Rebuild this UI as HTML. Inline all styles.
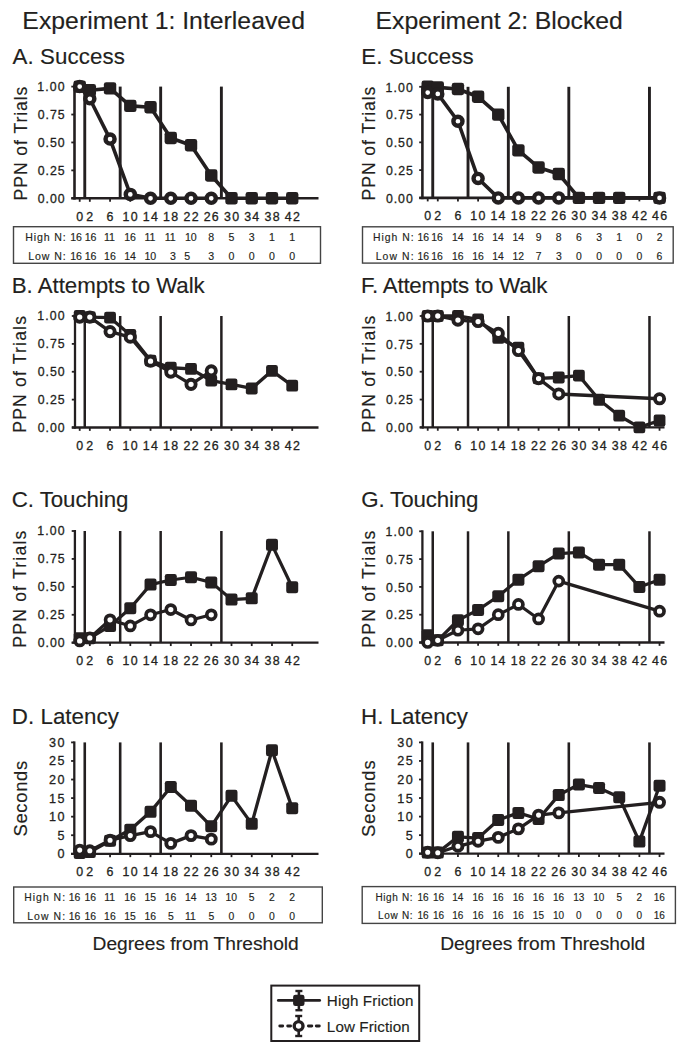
<!DOCTYPE html>
<html><head><meta charset="utf-8"><style>
html,body{margin:0;padding:0;background:#fff;}
svg{display:block;}
text{font-family:"Liberation Sans",sans-serif;fill:#231f20;stroke:#231f20;stroke-width:0.15px;}
text.b{stroke-width:0.3px;}
</style></head><body>
<svg width="681" height="1050" viewBox="0 0 681 1050">
<rect width="681" height="1050" fill="#fff"/>
<g stroke="#231f20" stroke-linecap="butt">
<line x1="84.76" y1="86.60" x2="84.76" y2="198.30" stroke-width="2.9"/>
<line x1="120.18" y1="86.60" x2="120.18" y2="198.30" stroke-width="2.9"/>
<line x1="160.66" y1="86.60" x2="160.66" y2="198.30" stroke-width="2.9"/>
<line x1="221.38" y1="86.60" x2="221.38" y2="198.30" stroke-width="2.9"/>
<line x1="74.50" y1="85.60" x2="74.50" y2="199.60" stroke-width="2.6"/>
<line x1="71.30" y1="198.30" x2="318.50" y2="198.30" stroke-width="2.6"/>
<line x1="71.30" y1="198.30" x2="74.50" y2="198.30" stroke-width="1.8"/>
<line x1="71.30" y1="170.38" x2="74.50" y2="170.38" stroke-width="1.8"/>
<line x1="71.30" y1="142.45" x2="74.50" y2="142.45" stroke-width="1.8"/>
<line x1="71.30" y1="114.53" x2="74.50" y2="114.53" stroke-width="1.8"/>
<line x1="71.30" y1="86.60" x2="74.50" y2="86.60" stroke-width="1.8"/>
<line x1="79.70" y1="198.30" x2="79.70" y2="201.80" stroke-width="1.8"/>
<line x1="89.82" y1="198.30" x2="89.82" y2="201.80" stroke-width="1.8"/>
<line x1="110.06" y1="198.30" x2="110.06" y2="201.80" stroke-width="1.8"/>
<line x1="130.30" y1="198.30" x2="130.30" y2="201.80" stroke-width="1.8"/>
<line x1="150.54" y1="198.30" x2="150.54" y2="201.80" stroke-width="1.8"/>
<line x1="170.78" y1="198.30" x2="170.78" y2="201.80" stroke-width="1.8"/>
<line x1="191.02" y1="198.30" x2="191.02" y2="201.80" stroke-width="1.8"/>
<line x1="211.26" y1="198.30" x2="211.26" y2="201.80" stroke-width="1.8"/>
<line x1="231.50" y1="198.30" x2="231.50" y2="201.80" stroke-width="1.8"/>
<line x1="251.74" y1="198.30" x2="251.74" y2="201.80" stroke-width="1.8"/>
<line x1="271.98" y1="198.30" x2="271.98" y2="201.80" stroke-width="1.8"/>
<line x1="292.22" y1="198.30" x2="292.22" y2="201.80" stroke-width="1.8"/>
<polyline points="79.70,86.60 89.82,90.17 110.06,88.39 130.30,105.92 150.54,107.26 170.78,137.98 191.02,145.24 211.26,175.51 231.50,198.30 251.74,198.30 271.98,198.30 292.22,198.30" fill="none" stroke-width="3.6" stroke-linejoin="round"/>
<rect x="73.50" y="80.40" width="12.4" height="12.4" rx="2.4" fill="#231f20" stroke="none"/>
<rect x="83.62" y="83.97" width="12.4" height="12.4" rx="2.4" fill="#231f20" stroke="none"/>
<rect x="103.86" y="82.19" width="12.4" height="12.4" rx="2.4" fill="#231f20" stroke="none"/>
<rect x="124.10" y="99.72" width="12.4" height="12.4" rx="2.4" fill="#231f20" stroke="none"/>
<rect x="144.34" y="101.06" width="12.4" height="12.4" rx="2.4" fill="#231f20" stroke="none"/>
<rect x="164.58" y="131.78" width="12.4" height="12.4" rx="2.4" fill="#231f20" stroke="none"/>
<rect x="184.82" y="139.04" width="12.4" height="12.4" rx="2.4" fill="#231f20" stroke="none"/>
<rect x="205.06" y="169.31" width="12.4" height="12.4" rx="2.4" fill="#231f20" stroke="none"/>
<rect x="225.30" y="192.10" width="12.4" height="12.4" rx="2.4" fill="#231f20" stroke="none"/>
<rect x="245.54" y="192.10" width="12.4" height="12.4" rx="2.4" fill="#231f20" stroke="none"/>
<rect x="265.78" y="192.10" width="12.4" height="12.4" rx="2.4" fill="#231f20" stroke="none"/>
<rect x="286.02" y="192.10" width="12.4" height="12.4" rx="2.4" fill="#231f20" stroke="none"/>
<polyline points="79.70,86.60 89.82,98.78 110.06,139.10 130.30,194.39 150.54,198.30 170.78,198.30 191.02,198.30 211.26,198.30" fill="none" stroke-width="3.6" stroke-linejoin="round"/>
<circle cx="79.70" cy="86.60" r="4.55" fill="#fff" stroke-width="4.4"/>
<circle cx="89.82" cy="98.78" r="4.55" fill="#fff" stroke-width="4.4"/>
<circle cx="110.06" cy="139.10" r="4.55" fill="#fff" stroke-width="4.4"/>
<circle cx="130.30" cy="194.39" r="4.55" fill="#fff" stroke-width="4.4"/>
<circle cx="150.54" cy="198.30" r="4.55" fill="#fff" stroke-width="4.4"/>
<circle cx="170.78" cy="198.30" r="4.55" fill="#fff" stroke-width="4.4"/>
<circle cx="191.02" cy="198.30" r="4.55" fill="#fff" stroke-width="4.4"/>
<circle cx="211.26" cy="198.30" r="4.55" fill="#fff" stroke-width="4.4"/>
<line x1="84.76" y1="316.00" x2="84.76" y2="427.50" stroke-width="2.5"/>
<line x1="120.18" y1="316.00" x2="120.18" y2="427.50" stroke-width="2.5"/>
<line x1="160.66" y1="316.00" x2="160.66" y2="427.50" stroke-width="2.5"/>
<line x1="221.38" y1="316.00" x2="221.38" y2="427.50" stroke-width="2.5"/>
<line x1="75.00" y1="315.00" x2="75.00" y2="428.65" stroke-width="2.3"/>
<line x1="71.80" y1="427.50" x2="318.50" y2="427.50" stroke-width="2.3"/>
<line x1="71.80" y1="427.50" x2="75.00" y2="427.50" stroke-width="1.8"/>
<line x1="71.80" y1="399.62" x2="75.00" y2="399.62" stroke-width="1.8"/>
<line x1="71.80" y1="371.75" x2="75.00" y2="371.75" stroke-width="1.8"/>
<line x1="71.80" y1="343.88" x2="75.00" y2="343.88" stroke-width="1.8"/>
<line x1="71.80" y1="316.00" x2="75.00" y2="316.00" stroke-width="1.8"/>
<line x1="79.70" y1="427.50" x2="79.70" y2="430.85" stroke-width="1.8"/>
<line x1="89.82" y1="427.50" x2="89.82" y2="430.85" stroke-width="1.8"/>
<line x1="110.06" y1="427.50" x2="110.06" y2="430.85" stroke-width="1.8"/>
<line x1="130.30" y1="427.50" x2="130.30" y2="430.85" stroke-width="1.8"/>
<line x1="150.54" y1="427.50" x2="150.54" y2="430.85" stroke-width="1.8"/>
<line x1="170.78" y1="427.50" x2="170.78" y2="430.85" stroke-width="1.8"/>
<line x1="191.02" y1="427.50" x2="191.02" y2="430.85" stroke-width="1.8"/>
<line x1="211.26" y1="427.50" x2="211.26" y2="430.85" stroke-width="1.8"/>
<line x1="231.50" y1="427.50" x2="231.50" y2="430.85" stroke-width="1.8"/>
<line x1="251.74" y1="427.50" x2="251.74" y2="430.85" stroke-width="1.8"/>
<line x1="271.98" y1="427.50" x2="271.98" y2="430.85" stroke-width="1.8"/>
<line x1="292.22" y1="427.50" x2="292.22" y2="430.85" stroke-width="1.8"/>
<polyline points="79.70,316.00 89.82,317.12 110.06,317.67 130.30,334.95 150.54,360.60 170.78,367.74 191.02,368.96 211.26,380.67 231.50,384.46 251.74,388.48 271.98,370.86 292.22,385.69" fill="none" stroke-width="3.3" stroke-linejoin="round"/>
<rect x="73.80" y="310.10" width="11.8" height="11.8" rx="2.2" fill="#231f20" stroke="none"/>
<rect x="83.92" y="311.22" width="11.8" height="11.8" rx="2.2" fill="#231f20" stroke="none"/>
<rect x="104.16" y="311.77" width="11.8" height="11.8" rx="2.2" fill="#231f20" stroke="none"/>
<rect x="124.40" y="329.06" width="11.8" height="11.8" rx="2.2" fill="#231f20" stroke="none"/>
<rect x="144.64" y="354.70" width="11.8" height="11.8" rx="2.2" fill="#231f20" stroke="none"/>
<rect x="164.88" y="361.84" width="11.8" height="11.8" rx="2.2" fill="#231f20" stroke="none"/>
<rect x="185.12" y="363.06" width="11.8" height="11.8" rx="2.2" fill="#231f20" stroke="none"/>
<rect x="205.36" y="374.77" width="11.8" height="11.8" rx="2.2" fill="#231f20" stroke="none"/>
<rect x="225.60" y="378.56" width="11.8" height="11.8" rx="2.2" fill="#231f20" stroke="none"/>
<rect x="245.84" y="382.58" width="11.8" height="11.8" rx="2.2" fill="#231f20" stroke="none"/>
<rect x="266.08" y="364.96" width="11.8" height="11.8" rx="2.2" fill="#231f20" stroke="none"/>
<rect x="286.32" y="379.79" width="11.8" height="11.8" rx="2.2" fill="#231f20" stroke="none"/>
<polyline points="79.70,317.12 89.82,317.12 110.06,331.61 130.30,337.19 150.54,361.16 170.78,372.08 191.02,384.35 211.26,370.86" fill="none" stroke-width="3.3" stroke-linejoin="round"/>
<circle cx="79.70" cy="317.12" r="4.6" fill="#fff" stroke-width="3.9"/>
<circle cx="89.82" cy="317.12" r="4.6" fill="#fff" stroke-width="3.9"/>
<circle cx="110.06" cy="331.61" r="4.6" fill="#fff" stroke-width="3.9"/>
<circle cx="130.30" cy="337.19" r="4.6" fill="#fff" stroke-width="3.9"/>
<circle cx="150.54" cy="361.16" r="4.6" fill="#fff" stroke-width="3.9"/>
<circle cx="170.78" cy="372.08" r="4.6" fill="#fff" stroke-width="3.9"/>
<circle cx="191.02" cy="384.35" r="4.6" fill="#fff" stroke-width="3.9"/>
<circle cx="211.26" cy="370.86" r="4.6" fill="#fff" stroke-width="3.9"/>
<line x1="84.76" y1="531.00" x2="84.76" y2="642.70" stroke-width="2.5"/>
<line x1="120.18" y1="531.00" x2="120.18" y2="642.70" stroke-width="2.5"/>
<line x1="160.66" y1="531.00" x2="160.66" y2="642.70" stroke-width="2.5"/>
<line x1="221.38" y1="531.00" x2="221.38" y2="642.70" stroke-width="2.5"/>
<line x1="74.90" y1="530.00" x2="74.90" y2="643.85" stroke-width="2.3"/>
<line x1="71.70" y1="642.70" x2="318.50" y2="642.70" stroke-width="2.3"/>
<line x1="71.70" y1="642.70" x2="74.90" y2="642.70" stroke-width="1.8"/>
<line x1="71.70" y1="614.78" x2="74.90" y2="614.78" stroke-width="1.8"/>
<line x1="71.70" y1="586.85" x2="74.90" y2="586.85" stroke-width="1.8"/>
<line x1="71.70" y1="558.92" x2="74.90" y2="558.92" stroke-width="1.8"/>
<line x1="71.70" y1="531.00" x2="74.90" y2="531.00" stroke-width="1.8"/>
<line x1="79.70" y1="642.70" x2="79.70" y2="646.05" stroke-width="1.8"/>
<line x1="89.82" y1="642.70" x2="89.82" y2="646.05" stroke-width="1.8"/>
<line x1="110.06" y1="642.70" x2="110.06" y2="646.05" stroke-width="1.8"/>
<line x1="130.30" y1="642.70" x2="130.30" y2="646.05" stroke-width="1.8"/>
<line x1="150.54" y1="642.70" x2="150.54" y2="646.05" stroke-width="1.8"/>
<line x1="170.78" y1="642.70" x2="170.78" y2="646.05" stroke-width="1.8"/>
<line x1="191.02" y1="642.70" x2="191.02" y2="646.05" stroke-width="1.8"/>
<line x1="211.26" y1="642.70" x2="211.26" y2="646.05" stroke-width="1.8"/>
<line x1="231.50" y1="642.70" x2="231.50" y2="646.05" stroke-width="1.8"/>
<line x1="251.74" y1="642.70" x2="251.74" y2="646.05" stroke-width="1.8"/>
<line x1="271.98" y1="642.70" x2="271.98" y2="646.05" stroke-width="1.8"/>
<line x1="292.22" y1="642.70" x2="292.22" y2="646.05" stroke-width="1.8"/>
<polyline points="79.70,638.23 89.82,638.23 110.06,625.95 130.30,608.30 150.54,584.62 170.78,580.04 191.02,577.24 211.26,582.38 231.50,599.58 251.74,598.36 271.98,544.85 292.22,587.19" fill="none" stroke-width="3.2" stroke-linejoin="round"/>
<rect x="73.70" y="632.23" width="12.0" height="12.0" rx="2.2" fill="#231f20" stroke="none"/>
<rect x="83.82" y="632.23" width="12.0" height="12.0" rx="2.2" fill="#231f20" stroke="none"/>
<rect x="104.06" y="619.95" width="12.0" height="12.0" rx="2.2" fill="#231f20" stroke="none"/>
<rect x="124.30" y="602.30" width="12.0" height="12.0" rx="2.2" fill="#231f20" stroke="none"/>
<rect x="144.54" y="578.62" width="12.0" height="12.0" rx="2.2" fill="#231f20" stroke="none"/>
<rect x="164.78" y="574.04" width="12.0" height="12.0" rx="2.2" fill="#231f20" stroke="none"/>
<rect x="185.02" y="571.24" width="12.0" height="12.0" rx="2.2" fill="#231f20" stroke="none"/>
<rect x="205.26" y="576.38" width="12.0" height="12.0" rx="2.2" fill="#231f20" stroke="none"/>
<rect x="225.50" y="593.58" width="12.0" height="12.0" rx="2.2" fill="#231f20" stroke="none"/>
<rect x="245.74" y="592.36" width="12.0" height="12.0" rx="2.2" fill="#231f20" stroke="none"/>
<rect x="265.98" y="538.85" width="12.0" height="12.0" rx="2.2" fill="#231f20" stroke="none"/>
<rect x="286.22" y="581.19" width="12.0" height="12.0" rx="2.2" fill="#231f20" stroke="none"/>
<polyline points="79.70,640.91 89.82,637.90 110.06,619.80 130.30,625.95 150.54,614.78 170.78,609.53 191.02,620.02 211.26,614.78" fill="none" stroke-width="3.2" stroke-linejoin="round"/>
<circle cx="79.70" cy="640.91" r="4.5" fill="#fff" stroke-width="3.7"/>
<circle cx="89.82" cy="637.90" r="4.5" fill="#fff" stroke-width="3.7"/>
<circle cx="110.06" cy="619.80" r="4.5" fill="#fff" stroke-width="3.7"/>
<circle cx="130.30" cy="625.95" r="4.5" fill="#fff" stroke-width="3.7"/>
<circle cx="150.54" cy="614.78" r="4.5" fill="#fff" stroke-width="3.7"/>
<circle cx="170.78" cy="609.53" r="4.5" fill="#fff" stroke-width="3.7"/>
<circle cx="191.02" cy="620.02" r="4.5" fill="#fff" stroke-width="3.7"/>
<circle cx="211.26" cy="614.78" r="4.5" fill="#fff" stroke-width="3.7"/>
<line x1="84.76" y1="742.40" x2="84.76" y2="853.80" stroke-width="2.6"/>
<line x1="120.18" y1="742.40" x2="120.18" y2="853.80" stroke-width="2.6"/>
<line x1="160.66" y1="742.40" x2="160.66" y2="853.80" stroke-width="2.6"/>
<line x1="221.38" y1="742.40" x2="221.38" y2="853.80" stroke-width="2.6"/>
<line x1="74.30" y1="741.40" x2="74.30" y2="854.95" stroke-width="2.3"/>
<line x1="71.10" y1="853.80" x2="318.50" y2="853.80" stroke-width="2.3"/>
<line x1="71.10" y1="853.80" x2="74.30" y2="853.80" stroke-width="1.8"/>
<line x1="71.10" y1="835.23" x2="74.30" y2="835.23" stroke-width="1.8"/>
<line x1="71.10" y1="816.67" x2="74.30" y2="816.67" stroke-width="1.8"/>
<line x1="71.10" y1="798.10" x2="74.30" y2="798.10" stroke-width="1.8"/>
<line x1="71.10" y1="779.53" x2="74.30" y2="779.53" stroke-width="1.8"/>
<line x1="71.10" y1="760.97" x2="74.30" y2="760.97" stroke-width="1.8"/>
<line x1="71.10" y1="742.40" x2="74.30" y2="742.40" stroke-width="1.8"/>
<line x1="79.70" y1="853.80" x2="79.70" y2="857.15" stroke-width="1.8"/>
<line x1="89.82" y1="853.80" x2="89.82" y2="857.15" stroke-width="1.8"/>
<line x1="110.06" y1="853.80" x2="110.06" y2="857.15" stroke-width="1.8"/>
<line x1="130.30" y1="853.80" x2="130.30" y2="857.15" stroke-width="1.8"/>
<line x1="150.54" y1="853.80" x2="150.54" y2="857.15" stroke-width="1.8"/>
<line x1="170.78" y1="853.80" x2="170.78" y2="857.15" stroke-width="1.8"/>
<line x1="191.02" y1="853.80" x2="191.02" y2="857.15" stroke-width="1.8"/>
<line x1="211.26" y1="853.80" x2="211.26" y2="857.15" stroke-width="1.8"/>
<line x1="231.50" y1="853.80" x2="231.50" y2="857.15" stroke-width="1.8"/>
<line x1="251.74" y1="853.80" x2="251.74" y2="857.15" stroke-width="1.8"/>
<line x1="271.98" y1="853.80" x2="271.98" y2="857.15" stroke-width="1.8"/>
<line x1="292.22" y1="853.80" x2="292.22" y2="857.15" stroke-width="1.8"/>
<polyline points="79.70,853.06 89.82,851.94 110.06,840.80 130.30,829.66 150.54,811.84 170.78,786.96 191.02,805.64 211.26,826.32 231.50,795.87 251.74,823.87 271.98,750.20 292.22,808.13" fill="none" stroke-width="3.3" stroke-linejoin="round"/>
<rect x="73.70" y="847.06" width="12.0" height="12.0" rx="2.2" fill="#231f20" stroke="none"/>
<rect x="83.82" y="845.94" width="12.0" height="12.0" rx="2.2" fill="#231f20" stroke="none"/>
<rect x="104.06" y="834.80" width="12.0" height="12.0" rx="2.2" fill="#231f20" stroke="none"/>
<rect x="124.30" y="823.66" width="12.0" height="12.0" rx="2.2" fill="#231f20" stroke="none"/>
<rect x="144.54" y="805.84" width="12.0" height="12.0" rx="2.2" fill="#231f20" stroke="none"/>
<rect x="164.78" y="780.96" width="12.0" height="12.0" rx="2.2" fill="#231f20" stroke="none"/>
<rect x="185.02" y="799.64" width="12.0" height="12.0" rx="2.2" fill="#231f20" stroke="none"/>
<rect x="205.26" y="820.32" width="12.0" height="12.0" rx="2.2" fill="#231f20" stroke="none"/>
<rect x="225.50" y="789.87" width="12.0" height="12.0" rx="2.2" fill="#231f20" stroke="none"/>
<rect x="245.74" y="817.87" width="12.0" height="12.0" rx="2.2" fill="#231f20" stroke="none"/>
<rect x="265.98" y="744.20" width="12.0" height="12.0" rx="2.2" fill="#231f20" stroke="none"/>
<rect x="286.22" y="802.13" width="12.0" height="12.0" rx="2.2" fill="#231f20" stroke="none"/>
<polyline points="79.70,850.09 89.82,850.72 110.06,840.25 130.30,835.60 150.54,831.67 170.78,843.40 191.02,835.60 211.26,839.13" fill="none" stroke-width="3.3" stroke-linejoin="round"/>
<circle cx="79.70" cy="850.09" r="4.5" fill="#fff" stroke-width="3.9"/>
<circle cx="89.82" cy="850.72" r="4.5" fill="#fff" stroke-width="3.9"/>
<circle cx="110.06" cy="840.25" r="4.5" fill="#fff" stroke-width="3.9"/>
<circle cx="130.30" cy="835.60" r="4.5" fill="#fff" stroke-width="3.9"/>
<circle cx="150.54" cy="831.67" r="4.5" fill="#fff" stroke-width="3.9"/>
<circle cx="170.78" cy="843.40" r="4.5" fill="#fff" stroke-width="3.9"/>
<circle cx="191.02" cy="835.60" r="4.5" fill="#fff" stroke-width="3.9"/>
<circle cx="211.26" cy="839.13" r="4.5" fill="#fff" stroke-width="3.9"/>
<line x1="432.74" y1="86.80" x2="432.74" y2="197.90" stroke-width="2.9"/>
<line x1="468.02" y1="86.80" x2="468.02" y2="197.90" stroke-width="2.9"/>
<line x1="508.34" y1="86.80" x2="508.34" y2="197.90" stroke-width="2.9"/>
<line x1="568.82" y1="86.80" x2="568.82" y2="197.90" stroke-width="2.9"/>
<line x1="649.46" y1="86.80" x2="649.46" y2="197.90" stroke-width="2.9"/>
<line x1="422.40" y1="85.80" x2="422.40" y2="199.20" stroke-width="2.6"/>
<line x1="419.20" y1="197.90" x2="664.50" y2="197.90" stroke-width="2.6"/>
<line x1="419.20" y1="197.90" x2="422.40" y2="197.90" stroke-width="1.8"/>
<line x1="419.20" y1="170.12" x2="422.40" y2="170.12" stroke-width="1.8"/>
<line x1="419.20" y1="142.35" x2="422.40" y2="142.35" stroke-width="1.8"/>
<line x1="419.20" y1="114.58" x2="422.40" y2="114.58" stroke-width="1.8"/>
<line x1="419.20" y1="86.80" x2="422.40" y2="86.80" stroke-width="1.8"/>
<line x1="427.70" y1="197.90" x2="427.70" y2="201.40" stroke-width="1.8"/>
<line x1="437.78" y1="197.90" x2="437.78" y2="201.40" stroke-width="1.8"/>
<line x1="457.94" y1="197.90" x2="457.94" y2="201.40" stroke-width="1.8"/>
<line x1="478.10" y1="197.90" x2="478.10" y2="201.40" stroke-width="1.8"/>
<line x1="498.26" y1="197.90" x2="498.26" y2="201.40" stroke-width="1.8"/>
<line x1="518.42" y1="197.90" x2="518.42" y2="201.40" stroke-width="1.8"/>
<line x1="538.58" y1="197.90" x2="538.58" y2="201.40" stroke-width="1.8"/>
<line x1="558.74" y1="197.90" x2="558.74" y2="201.40" stroke-width="1.8"/>
<line x1="578.90" y1="197.90" x2="578.90" y2="201.40" stroke-width="1.8"/>
<line x1="599.06" y1="197.90" x2="599.06" y2="201.40" stroke-width="1.8"/>
<line x1="619.22" y1="197.90" x2="619.22" y2="201.40" stroke-width="1.8"/>
<line x1="639.38" y1="197.90" x2="639.38" y2="201.40" stroke-width="1.8"/>
<line x1="659.54" y1="197.90" x2="659.54" y2="201.40" stroke-width="1.8"/>
<polyline points="427.70,86.80 437.78,87.36 457.94,89.02 478.10,96.80 498.26,114.58 518.42,150.35 538.58,167.46 558.74,174.01 578.90,197.90 599.06,197.90 619.22,197.90 659.54,197.90" fill="none" stroke-width="3.6" stroke-linejoin="round"/>
<rect x="421.50" y="80.60" width="12.4" height="12.4" rx="2.4" fill="#231f20" stroke="none"/>
<rect x="431.58" y="81.16" width="12.4" height="12.4" rx="2.4" fill="#231f20" stroke="none"/>
<rect x="451.74" y="82.82" width="12.4" height="12.4" rx="2.4" fill="#231f20" stroke="none"/>
<rect x="471.90" y="90.60" width="12.4" height="12.4" rx="2.4" fill="#231f20" stroke="none"/>
<rect x="492.06" y="108.38" width="12.4" height="12.4" rx="2.4" fill="#231f20" stroke="none"/>
<rect x="512.22" y="144.15" width="12.4" height="12.4" rx="2.4" fill="#231f20" stroke="none"/>
<rect x="532.38" y="161.26" width="12.4" height="12.4" rx="2.4" fill="#231f20" stroke="none"/>
<rect x="552.54" y="167.81" width="12.4" height="12.4" rx="2.4" fill="#231f20" stroke="none"/>
<rect x="572.70" y="191.70" width="12.4" height="12.4" rx="2.4" fill="#231f20" stroke="none"/>
<rect x="592.86" y="191.70" width="12.4" height="12.4" rx="2.4" fill="#231f20" stroke="none"/>
<rect x="613.02" y="191.70" width="12.4" height="12.4" rx="2.4" fill="#231f20" stroke="none"/>
<rect x="653.34" y="191.70" width="12.4" height="12.4" rx="2.4" fill="#231f20" stroke="none"/>
<polyline points="427.70,92.58 437.78,93.91 457.94,121.24 478.10,178.46 498.26,197.90 518.42,197.90 538.58,197.90 558.74,197.90 659.54,197.90" fill="none" stroke-width="3.6" stroke-linejoin="round"/>
<circle cx="427.70" cy="92.58" r="4.55" fill="#fff" stroke-width="4.4"/>
<circle cx="437.78" cy="93.91" r="4.55" fill="#fff" stroke-width="4.4"/>
<circle cx="457.94" cy="121.24" r="4.55" fill="#fff" stroke-width="4.4"/>
<circle cx="478.10" cy="178.46" r="4.55" fill="#fff" stroke-width="4.4"/>
<circle cx="498.26" cy="197.90" r="4.55" fill="#fff" stroke-width="4.4"/>
<circle cx="518.42" cy="197.90" r="4.55" fill="#fff" stroke-width="4.4"/>
<circle cx="538.58" cy="197.90" r="4.55" fill="#fff" stroke-width="4.4"/>
<circle cx="558.74" cy="197.90" r="4.55" fill="#fff" stroke-width="4.4"/>
<circle cx="659.54" cy="197.90" r="4.55" fill="#fff" stroke-width="4.4"/>
<line x1="432.74" y1="316.00" x2="432.74" y2="427.40" stroke-width="2.5"/>
<line x1="468.02" y1="316.00" x2="468.02" y2="427.40" stroke-width="2.5"/>
<line x1="508.34" y1="316.00" x2="508.34" y2="427.40" stroke-width="2.5"/>
<line x1="568.82" y1="316.00" x2="568.82" y2="427.40" stroke-width="2.5"/>
<line x1="649.46" y1="316.00" x2="649.46" y2="427.40" stroke-width="2.5"/>
<line x1="422.90" y1="315.00" x2="422.90" y2="428.55" stroke-width="2.3"/>
<line x1="419.70" y1="427.40" x2="664.50" y2="427.40" stroke-width="2.3"/>
<line x1="419.70" y1="427.40" x2="422.90" y2="427.40" stroke-width="1.8"/>
<line x1="419.70" y1="399.55" x2="422.90" y2="399.55" stroke-width="1.8"/>
<line x1="419.70" y1="371.70" x2="422.90" y2="371.70" stroke-width="1.8"/>
<line x1="419.70" y1="343.85" x2="422.90" y2="343.85" stroke-width="1.8"/>
<line x1="419.70" y1="316.00" x2="422.90" y2="316.00" stroke-width="1.8"/>
<line x1="427.70" y1="427.40" x2="427.70" y2="430.75" stroke-width="1.8"/>
<line x1="437.78" y1="427.40" x2="437.78" y2="430.75" stroke-width="1.8"/>
<line x1="457.94" y1="427.40" x2="457.94" y2="430.75" stroke-width="1.8"/>
<line x1="478.10" y1="427.40" x2="478.10" y2="430.75" stroke-width="1.8"/>
<line x1="498.26" y1="427.40" x2="498.26" y2="430.75" stroke-width="1.8"/>
<line x1="518.42" y1="427.40" x2="518.42" y2="430.75" stroke-width="1.8"/>
<line x1="538.58" y1="427.40" x2="538.58" y2="430.75" stroke-width="1.8"/>
<line x1="558.74" y1="427.40" x2="558.74" y2="430.75" stroke-width="1.8"/>
<line x1="578.90" y1="427.40" x2="578.90" y2="430.75" stroke-width="1.8"/>
<line x1="599.06" y1="427.40" x2="599.06" y2="430.75" stroke-width="1.8"/>
<line x1="619.22" y1="427.40" x2="619.22" y2="430.75" stroke-width="1.8"/>
<line x1="639.38" y1="427.40" x2="639.38" y2="430.75" stroke-width="1.8"/>
<line x1="659.54" y1="427.40" x2="659.54" y2="430.75" stroke-width="1.8"/>
<polyline points="427.70,316.00 437.78,316.00 457.94,316.00 478.10,319.45 498.26,337.95 518.42,347.64 538.58,378.38 558.74,377.49 578.90,375.60 599.06,399.77 619.22,415.70 639.38,427.40 659.54,420.49" fill="none" stroke-width="3.3" stroke-linejoin="round"/>
<rect x="421.80" y="310.10" width="11.8" height="11.8" rx="2.2" fill="#231f20" stroke="none"/>
<rect x="431.88" y="310.10" width="11.8" height="11.8" rx="2.2" fill="#231f20" stroke="none"/>
<rect x="452.04" y="310.10" width="11.8" height="11.8" rx="2.2" fill="#231f20" stroke="none"/>
<rect x="472.20" y="313.55" width="11.8" height="11.8" rx="2.2" fill="#231f20" stroke="none"/>
<rect x="492.36" y="332.05" width="11.8" height="11.8" rx="2.2" fill="#231f20" stroke="none"/>
<rect x="512.52" y="341.74" width="11.8" height="11.8" rx="2.2" fill="#231f20" stroke="none"/>
<rect x="532.68" y="372.48" width="11.8" height="11.8" rx="2.2" fill="#231f20" stroke="none"/>
<rect x="552.84" y="371.59" width="11.8" height="11.8" rx="2.2" fill="#231f20" stroke="none"/>
<rect x="573.00" y="369.70" width="11.8" height="11.8" rx="2.2" fill="#231f20" stroke="none"/>
<rect x="593.16" y="393.87" width="11.8" height="11.8" rx="2.2" fill="#231f20" stroke="none"/>
<rect x="613.32" y="409.80" width="11.8" height="11.8" rx="2.2" fill="#231f20" stroke="none"/>
<rect x="633.48" y="421.50" width="11.8" height="11.8" rx="2.2" fill="#231f20" stroke="none"/>
<rect x="653.64" y="414.59" width="11.8" height="11.8" rx="2.2" fill="#231f20" stroke="none"/>
<polyline points="427.70,316.00 437.78,316.00 457.94,320.12 478.10,321.57 498.26,333.27 518.42,350.53 538.58,378.61 558.74,393.98 659.54,398.77" fill="none" stroke-width="3.3" stroke-linejoin="round"/>
<circle cx="427.70" cy="316.00" r="4.6" fill="#fff" stroke-width="3.9"/>
<circle cx="437.78" cy="316.00" r="4.6" fill="#fff" stroke-width="3.9"/>
<circle cx="457.94" cy="320.12" r="4.6" fill="#fff" stroke-width="3.9"/>
<circle cx="478.10" cy="321.57" r="4.6" fill="#fff" stroke-width="3.9"/>
<circle cx="498.26" cy="333.27" r="4.6" fill="#fff" stroke-width="3.9"/>
<circle cx="518.42" cy="350.53" r="4.6" fill="#fff" stroke-width="3.9"/>
<circle cx="538.58" cy="378.61" r="4.6" fill="#fff" stroke-width="3.9"/>
<circle cx="558.74" cy="393.98" r="4.6" fill="#fff" stroke-width="3.9"/>
<circle cx="659.54" cy="398.77" r="4.6" fill="#fff" stroke-width="3.9"/>
<line x1="432.74" y1="531.30" x2="432.74" y2="642.50" stroke-width="2.5"/>
<line x1="468.02" y1="531.30" x2="468.02" y2="642.50" stroke-width="2.5"/>
<line x1="508.34" y1="531.30" x2="508.34" y2="642.50" stroke-width="2.5"/>
<line x1="568.82" y1="531.30" x2="568.82" y2="642.50" stroke-width="2.5"/>
<line x1="649.46" y1="531.30" x2="649.46" y2="642.50" stroke-width="2.5"/>
<line x1="422.40" y1="530.30" x2="422.40" y2="643.65" stroke-width="2.3"/>
<line x1="419.20" y1="642.50" x2="664.50" y2="642.50" stroke-width="2.3"/>
<line x1="419.20" y1="642.50" x2="422.40" y2="642.50" stroke-width="1.8"/>
<line x1="419.20" y1="614.70" x2="422.40" y2="614.70" stroke-width="1.8"/>
<line x1="419.20" y1="586.90" x2="422.40" y2="586.90" stroke-width="1.8"/>
<line x1="419.20" y1="559.10" x2="422.40" y2="559.10" stroke-width="1.8"/>
<line x1="419.20" y1="531.30" x2="422.40" y2="531.30" stroke-width="1.8"/>
<line x1="427.70" y1="642.50" x2="427.70" y2="645.85" stroke-width="1.8"/>
<line x1="437.78" y1="642.50" x2="437.78" y2="645.85" stroke-width="1.8"/>
<line x1="457.94" y1="642.50" x2="457.94" y2="645.85" stroke-width="1.8"/>
<line x1="478.10" y1="642.50" x2="478.10" y2="645.85" stroke-width="1.8"/>
<line x1="498.26" y1="642.50" x2="498.26" y2="645.85" stroke-width="1.8"/>
<line x1="518.42" y1="642.50" x2="518.42" y2="645.85" stroke-width="1.8"/>
<line x1="538.58" y1="642.50" x2="538.58" y2="645.85" stroke-width="1.8"/>
<line x1="558.74" y1="642.50" x2="558.74" y2="645.85" stroke-width="1.8"/>
<line x1="578.90" y1="642.50" x2="578.90" y2="645.85" stroke-width="1.8"/>
<line x1="599.06" y1="642.50" x2="599.06" y2="645.85" stroke-width="1.8"/>
<line x1="619.22" y1="642.50" x2="619.22" y2="645.85" stroke-width="1.8"/>
<line x1="639.38" y1="642.50" x2="639.38" y2="645.85" stroke-width="1.8"/>
<line x1="659.54" y1="642.50" x2="659.54" y2="645.85" stroke-width="1.8"/>
<polyline points="427.70,635.27 437.78,640.28 457.94,620.26 478.10,609.92 498.26,596.24 518.42,579.67 538.58,566.22 558.74,553.54 578.90,552.43 599.06,564.66 619.22,564.66 639.38,586.90 659.54,579.67" fill="none" stroke-width="3.2" stroke-linejoin="round"/>
<rect x="421.70" y="629.27" width="12.0" height="12.0" rx="2.2" fill="#231f20" stroke="none"/>
<rect x="431.78" y="634.28" width="12.0" height="12.0" rx="2.2" fill="#231f20" stroke="none"/>
<rect x="451.94" y="614.26" width="12.0" height="12.0" rx="2.2" fill="#231f20" stroke="none"/>
<rect x="472.10" y="603.92" width="12.0" height="12.0" rx="2.2" fill="#231f20" stroke="none"/>
<rect x="492.26" y="590.24" width="12.0" height="12.0" rx="2.2" fill="#231f20" stroke="none"/>
<rect x="512.42" y="573.67" width="12.0" height="12.0" rx="2.2" fill="#231f20" stroke="none"/>
<rect x="532.58" y="560.22" width="12.0" height="12.0" rx="2.2" fill="#231f20" stroke="none"/>
<rect x="552.74" y="547.54" width="12.0" height="12.0" rx="2.2" fill="#231f20" stroke="none"/>
<rect x="572.90" y="546.43" width="12.0" height="12.0" rx="2.2" fill="#231f20" stroke="none"/>
<rect x="593.06" y="558.66" width="12.0" height="12.0" rx="2.2" fill="#231f20" stroke="none"/>
<rect x="613.22" y="558.66" width="12.0" height="12.0" rx="2.2" fill="#231f20" stroke="none"/>
<rect x="633.38" y="580.90" width="12.0" height="12.0" rx="2.2" fill="#231f20" stroke="none"/>
<rect x="653.54" y="573.67" width="12.0" height="12.0" rx="2.2" fill="#231f20" stroke="none"/>
<polyline points="427.70,642.50 437.78,640.28 457.94,630.27 478.10,628.82 498.26,614.70 518.42,604.47 538.58,618.93 558.74,581.12 659.54,611.14" fill="none" stroke-width="3.2" stroke-linejoin="round"/>
<circle cx="427.70" cy="642.50" r="4.5" fill="#fff" stroke-width="3.7"/>
<circle cx="437.78" cy="640.28" r="4.5" fill="#fff" stroke-width="3.7"/>
<circle cx="457.94" cy="630.27" r="4.5" fill="#fff" stroke-width="3.7"/>
<circle cx="478.10" cy="628.82" r="4.5" fill="#fff" stroke-width="3.7"/>
<circle cx="498.26" cy="614.70" r="4.5" fill="#fff" stroke-width="3.7"/>
<circle cx="518.42" cy="604.47" r="4.5" fill="#fff" stroke-width="3.7"/>
<circle cx="538.58" cy="618.93" r="4.5" fill="#fff" stroke-width="3.7"/>
<circle cx="558.74" cy="581.12" r="4.5" fill="#fff" stroke-width="3.7"/>
<circle cx="659.54" cy="611.14" r="4.5" fill="#fff" stroke-width="3.7"/>
<line x1="432.74" y1="742.40" x2="432.74" y2="853.70" stroke-width="2.6"/>
<line x1="468.02" y1="742.40" x2="468.02" y2="853.70" stroke-width="2.6"/>
<line x1="508.34" y1="742.40" x2="508.34" y2="853.70" stroke-width="2.6"/>
<line x1="568.82" y1="742.40" x2="568.82" y2="853.70" stroke-width="2.6"/>
<line x1="649.46" y1="742.40" x2="649.46" y2="853.70" stroke-width="2.6"/>
<line x1="422.20" y1="741.40" x2="422.20" y2="854.85" stroke-width="2.3"/>
<line x1="419.00" y1="853.70" x2="664.50" y2="853.70" stroke-width="2.3"/>
<line x1="419.00" y1="853.70" x2="422.20" y2="853.70" stroke-width="1.8"/>
<line x1="419.00" y1="835.15" x2="422.20" y2="835.15" stroke-width="1.8"/>
<line x1="419.00" y1="816.60" x2="422.20" y2="816.60" stroke-width="1.8"/>
<line x1="419.00" y1="798.05" x2="422.20" y2="798.05" stroke-width="1.8"/>
<line x1="419.00" y1="779.50" x2="422.20" y2="779.50" stroke-width="1.8"/>
<line x1="419.00" y1="760.95" x2="422.20" y2="760.95" stroke-width="1.8"/>
<line x1="419.00" y1="742.40" x2="422.20" y2="742.40" stroke-width="1.8"/>
<line x1="427.70" y1="853.70" x2="427.70" y2="857.05" stroke-width="1.8"/>
<line x1="437.78" y1="853.70" x2="437.78" y2="857.05" stroke-width="1.8"/>
<line x1="457.94" y1="853.70" x2="457.94" y2="857.05" stroke-width="1.8"/>
<line x1="478.10" y1="853.70" x2="478.10" y2="857.05" stroke-width="1.8"/>
<line x1="498.26" y1="853.70" x2="498.26" y2="857.05" stroke-width="1.8"/>
<line x1="518.42" y1="853.70" x2="518.42" y2="857.05" stroke-width="1.8"/>
<line x1="538.58" y1="853.70" x2="538.58" y2="857.05" stroke-width="1.8"/>
<line x1="558.74" y1="853.70" x2="558.74" y2="857.05" stroke-width="1.8"/>
<line x1="578.90" y1="853.70" x2="578.90" y2="857.05" stroke-width="1.8"/>
<line x1="599.06" y1="853.70" x2="599.06" y2="857.05" stroke-width="1.8"/>
<line x1="619.22" y1="853.70" x2="619.22" y2="857.05" stroke-width="1.8"/>
<line x1="639.38" y1="853.70" x2="639.38" y2="857.05" stroke-width="1.8"/>
<line x1="659.54" y1="853.70" x2="659.54" y2="857.05" stroke-width="1.8"/>
<polyline points="427.70,852.59 437.78,852.59 457.94,836.82 478.10,838.12 498.26,819.94 518.42,812.89 538.58,819.01 558.74,795.08 578.90,784.51 599.06,788.03 619.22,797.31 639.38,841.61 659.54,785.81" fill="none" stroke-width="3.3" stroke-linejoin="round"/>
<rect x="421.70" y="846.59" width="12.0" height="12.0" rx="2.2" fill="#231f20" stroke="none"/>
<rect x="431.78" y="846.59" width="12.0" height="12.0" rx="2.2" fill="#231f20" stroke="none"/>
<rect x="451.94" y="830.82" width="12.0" height="12.0" rx="2.2" fill="#231f20" stroke="none"/>
<rect x="472.10" y="832.12" width="12.0" height="12.0" rx="2.2" fill="#231f20" stroke="none"/>
<rect x="492.26" y="813.94" width="12.0" height="12.0" rx="2.2" fill="#231f20" stroke="none"/>
<rect x="512.42" y="806.89" width="12.0" height="12.0" rx="2.2" fill="#231f20" stroke="none"/>
<rect x="532.58" y="813.01" width="12.0" height="12.0" rx="2.2" fill="#231f20" stroke="none"/>
<rect x="552.74" y="789.08" width="12.0" height="12.0" rx="2.2" fill="#231f20" stroke="none"/>
<rect x="572.90" y="778.51" width="12.0" height="12.0" rx="2.2" fill="#231f20" stroke="none"/>
<rect x="593.06" y="782.03" width="12.0" height="12.0" rx="2.2" fill="#231f20" stroke="none"/>
<rect x="613.22" y="791.31" width="12.0" height="12.0" rx="2.2" fill="#231f20" stroke="none"/>
<rect x="633.38" y="835.61" width="12.0" height="12.0" rx="2.2" fill="#231f20" stroke="none"/>
<rect x="653.54" y="779.81" width="12.0" height="12.0" rx="2.2" fill="#231f20" stroke="none"/>
<polyline points="427.70,852.22 437.78,852.70 457.94,846.28 478.10,841.20 498.26,837.38 518.42,828.84 538.58,815.12 558.74,812.89 659.54,802.32" fill="none" stroke-width="3.3" stroke-linejoin="round"/>
<circle cx="427.70" cy="852.22" r="4.5" fill="#fff" stroke-width="3.9"/>
<circle cx="437.78" cy="852.70" r="4.5" fill="#fff" stroke-width="3.9"/>
<circle cx="457.94" cy="846.28" r="4.5" fill="#fff" stroke-width="3.9"/>
<circle cx="478.10" cy="841.20" r="4.5" fill="#fff" stroke-width="3.9"/>
<circle cx="498.26" cy="837.38" r="4.5" fill="#fff" stroke-width="3.9"/>
<circle cx="518.42" cy="828.84" r="4.5" fill="#fff" stroke-width="3.9"/>
<circle cx="538.58" cy="815.12" r="4.5" fill="#fff" stroke-width="3.9"/>
<circle cx="558.74" cy="812.89" r="4.5" fill="#fff" stroke-width="3.9"/>
<circle cx="659.54" cy="802.32" r="4.5" fill="#fff" stroke-width="3.9"/>
<rect x="13.50" y="226.70" width="307.00" height="36.60" fill="none" stroke="#444" stroke-width="1.4"/>
<rect x="362.50" y="226.80" width="310.70" height="36.30" fill="none" stroke="#444" stroke-width="1.4"/>
<rect x="13.70" y="887.00" width="308.60" height="35.80" fill="none" stroke="#444" stroke-width="1.4"/>
<rect x="362.20" y="886.60" width="313.20" height="36.80" fill="none" stroke="#444" stroke-width="1.4"/>
<rect x="271.3" y="985.6" width="147.9" height="55.4" fill="none" stroke="#231f20" stroke-width="2"/>
<line x1="278.3" y1="1000.4" x2="319.7" y2="1000.4" stroke-width="2.7" stroke-linecap="round"/>
<line x1="298.9" y1="991" x2="298.9" y2="1010.2" stroke-width="2.6"/>
<line x1="295.4" y1="991" x2="302.4" y2="991" stroke-width="2.4"/>
<line x1="295.4" y1="1010.2" x2="302.4" y2="1010.2" stroke-width="2.4"/>
<rect x="293.1" y="994.7" width="11.4" height="11.4" rx="2.4" fill="#231f20" stroke="none"/>
<line x1="279.8" y1="1026" x2="282.7" y2="1026" stroke-width="2.9" stroke-linecap="round"/>
<line x1="287.7" y1="1026" x2="290.6" y2="1026" stroke-width="2.9" stroke-linecap="round"/>
<line x1="308.4" y1="1026" x2="311.8" y2="1026" stroke-width="2.9" stroke-linecap="round"/>
<line x1="316.3" y1="1026" x2="319.3" y2="1026" stroke-width="2.9" stroke-linecap="round"/>
<line x1="298.7" y1="1016" x2="298.7" y2="1036" stroke-width="2.6"/>
<line x1="295.2" y1="1016" x2="302.2" y2="1016" stroke-width="2.4"/>
<line x1="295.2" y1="1036" x2="302.2" y2="1036" stroke-width="2.4"/>
<circle cx="298.6" cy="1026" r="4.4" fill="#fff" stroke-width="3.4"/>
</g>
<g>
<text x="22.37" y="28.60" style="font-size:24.80px">Experiment 1: Interleaved</text>
<text x="375.57" y="28.60" style="font-size:24.80px;letter-spacing:-0.04px">Experiment 2: Blocked</text>
<text x="12.56" y="63.90" style="font-size:22.30px;letter-spacing:0.08px">A. Success</text>
<text x="11.77" y="293.30" style="font-size:22.30px;letter-spacing:-0.04px">B. Attempts to Walk</text>
<text x="11.77" y="507.00" style="font-size:22.30px;letter-spacing:-0.07px">C. Touching</text>
<text x="11.77" y="724.20" style="font-size:22.30px;letter-spacing:0.06px">D. Latency</text>
<text x="361.37" y="63.90" style="font-size:22.30px;letter-spacing:0.08px">E. Success</text>
<text x="361.07" y="292.80" style="font-size:22.30px;letter-spacing:-0.21px">F. Attempts to Walk</text>
<text x="361.18" y="507.00" style="font-size:22.30px;letter-spacing:-0.13px">G. Touching</text>
<text x="361.07" y="724.20" style="font-size:22.30px;letter-spacing:0.03px">H. Latency</text>
<text x="37.72" y="202.70" style="font-size:12.30px;letter-spacing:0.97px" class="b">0.00</text>
<text x="37.72" y="174.78" style="font-size:12.30px;letter-spacing:0.99px" class="b">0.25</text>
<text x="37.72" y="146.85" style="font-size:12.30px;letter-spacing:0.97px" class="b">0.50</text>
<text x="37.72" y="118.93" style="font-size:12.30px;letter-spacing:0.99px" class="b">0.75</text>
<text x="37.26" y="91.00" style="font-size:12.30px;letter-spacing:1.13px" class="b">1.00</text>
<text x="76.25" y="220.70" style="font-size:12.40px" class="b">0</text>
<text x="86.37" y="220.70" style="font-size:12.40px" class="b">2</text>
<text x="106.57" y="220.70" style="font-size:12.40px" class="b">6</text>
<text x="122.52" y="220.70" style="font-size:12.40px;letter-spacing:1.30px" class="b">10</text>
<text x="142.70" y="220.70" style="font-size:12.40px;letter-spacing:1.30px" class="b">14</text>
<text x="163.03" y="220.70" style="font-size:12.40px;letter-spacing:1.30px" class="b">18</text>
<text x="183.47" y="220.70" style="font-size:12.40px;letter-spacing:1.30px" class="b">22</text>
<text x="203.67" y="220.70" style="font-size:12.40px;letter-spacing:1.30px" class="b">26</text>
<text x="223.96" y="220.70" style="font-size:12.40px;letter-spacing:1.30px" class="b">30</text>
<text x="244.14" y="220.70" style="font-size:12.40px;letter-spacing:1.30px" class="b">34</text>
<text x="264.47" y="220.70" style="font-size:12.40px;letter-spacing:1.30px" class="b">38</text>
<text x="284.84" y="220.70" style="font-size:12.40px;letter-spacing:1.30px" class="b">42</text>
<text x="37.72" y="431.90" style="font-size:12.30px;letter-spacing:0.97px" class="b">0.00</text>
<text x="37.72" y="404.02" style="font-size:12.30px;letter-spacing:0.99px" class="b">0.25</text>
<text x="37.72" y="376.15" style="font-size:12.30px;letter-spacing:0.97px" class="b">0.50</text>
<text x="37.72" y="348.27" style="font-size:12.30px;letter-spacing:0.99px" class="b">0.75</text>
<text x="37.26" y="320.40" style="font-size:12.30px;letter-spacing:1.13px" class="b">1.00</text>
<text x="76.25" y="449.90" style="font-size:12.40px" class="b">0</text>
<text x="86.37" y="449.90" style="font-size:12.40px" class="b">2</text>
<text x="106.57" y="449.90" style="font-size:12.40px" class="b">6</text>
<text x="122.52" y="449.90" style="font-size:12.40px;letter-spacing:1.30px" class="b">10</text>
<text x="142.70" y="449.90" style="font-size:12.40px;letter-spacing:1.30px" class="b">14</text>
<text x="163.03" y="449.90" style="font-size:12.40px;letter-spacing:1.30px" class="b">18</text>
<text x="183.47" y="449.90" style="font-size:12.40px;letter-spacing:1.30px" class="b">22</text>
<text x="203.67" y="449.90" style="font-size:12.40px;letter-spacing:1.30px" class="b">26</text>
<text x="223.96" y="449.90" style="font-size:12.40px;letter-spacing:1.30px" class="b">30</text>
<text x="244.14" y="449.90" style="font-size:12.40px;letter-spacing:1.30px" class="b">34</text>
<text x="264.47" y="449.90" style="font-size:12.40px;letter-spacing:1.30px" class="b">38</text>
<text x="284.84" y="449.90" style="font-size:12.40px;letter-spacing:1.30px" class="b">42</text>
<text x="37.72" y="647.10" style="font-size:12.30px;letter-spacing:0.97px" class="b">0.00</text>
<text x="37.72" y="619.18" style="font-size:12.30px;letter-spacing:0.99px" class="b">0.25</text>
<text x="37.72" y="591.25" style="font-size:12.30px;letter-spacing:0.97px" class="b">0.50</text>
<text x="37.72" y="563.32" style="font-size:12.30px;letter-spacing:0.99px" class="b">0.75</text>
<text x="37.26" y="535.40" style="font-size:12.30px;letter-spacing:1.13px" class="b">1.00</text>
<text x="76.25" y="665.10" style="font-size:12.40px" class="b">0</text>
<text x="86.37" y="665.10" style="font-size:12.40px" class="b">2</text>
<text x="106.57" y="665.10" style="font-size:12.40px" class="b">6</text>
<text x="122.52" y="665.10" style="font-size:12.40px;letter-spacing:1.30px" class="b">10</text>
<text x="142.70" y="665.10" style="font-size:12.40px;letter-spacing:1.30px" class="b">14</text>
<text x="163.03" y="665.10" style="font-size:12.40px;letter-spacing:1.30px" class="b">18</text>
<text x="183.47" y="665.10" style="font-size:12.40px;letter-spacing:1.30px" class="b">22</text>
<text x="203.67" y="665.10" style="font-size:12.40px;letter-spacing:1.30px" class="b">26</text>
<text x="223.96" y="665.10" style="font-size:12.40px;letter-spacing:1.30px" class="b">30</text>
<text x="244.14" y="665.10" style="font-size:12.40px;letter-spacing:1.30px" class="b">34</text>
<text x="264.47" y="665.10" style="font-size:12.40px;letter-spacing:1.30px" class="b">38</text>
<text x="284.84" y="665.10" style="font-size:12.40px;letter-spacing:1.30px" class="b">42</text>
<text x="57.58" y="858.30" style="font-size:12.60px" class="b">0</text>
<text x="57.62" y="839.73" style="font-size:12.60px" class="b">5</text>
<text x="48.98" y="821.17" style="font-size:12.60px;letter-spacing:1.60px" class="b">10</text>
<text x="49.01" y="802.60" style="font-size:12.60px;letter-spacing:1.60px" class="b">15</text>
<text x="48.98" y="784.03" style="font-size:12.60px;letter-spacing:1.60px" class="b">20</text>
<text x="49.01" y="765.47" style="font-size:12.60px;letter-spacing:1.60px" class="b">25</text>
<text x="48.98" y="746.90" style="font-size:12.60px;letter-spacing:1.60px" class="b">30</text>
<text x="76.25" y="876.20" style="font-size:12.40px" class="b">0</text>
<text x="86.37" y="876.20" style="font-size:12.40px" class="b">2</text>
<text x="106.57" y="876.20" style="font-size:12.40px" class="b">6</text>
<text x="122.52" y="876.20" style="font-size:12.40px;letter-spacing:1.30px" class="b">10</text>
<text x="142.70" y="876.20" style="font-size:12.40px;letter-spacing:1.30px" class="b">14</text>
<text x="163.03" y="876.20" style="font-size:12.40px;letter-spacing:1.30px" class="b">18</text>
<text x="183.47" y="876.20" style="font-size:12.40px;letter-spacing:1.30px" class="b">22</text>
<text x="203.67" y="876.20" style="font-size:12.40px;letter-spacing:1.30px" class="b">26</text>
<text x="223.96" y="876.20" style="font-size:12.40px;letter-spacing:1.30px" class="b">30</text>
<text x="244.14" y="876.20" style="font-size:12.40px;letter-spacing:1.30px" class="b">34</text>
<text x="264.47" y="876.20" style="font-size:12.40px;letter-spacing:1.30px" class="b">38</text>
<text x="284.84" y="876.20" style="font-size:12.40px;letter-spacing:1.30px" class="b">42</text>
<text x="385.92" y="202.60" style="font-size:12.30px;letter-spacing:0.97px" class="b">0.00</text>
<text x="385.92" y="174.83" style="font-size:12.30px;letter-spacing:0.99px" class="b">0.25</text>
<text x="385.92" y="147.05" style="font-size:12.30px;letter-spacing:0.97px" class="b">0.50</text>
<text x="385.92" y="119.28" style="font-size:12.30px;letter-spacing:0.99px" class="b">0.75</text>
<text x="385.46" y="91.50" style="font-size:12.30px;letter-spacing:1.13px" class="b">1.00</text>
<text x="424.25" y="220.30" style="font-size:12.40px" class="b">0</text>
<text x="434.33" y="220.30" style="font-size:12.40px" class="b">2</text>
<text x="454.45" y="220.30" style="font-size:12.40px" class="b">6</text>
<text x="470.32" y="220.30" style="font-size:12.40px;letter-spacing:1.30px" class="b">10</text>
<text x="490.42" y="220.30" style="font-size:12.40px;letter-spacing:1.30px" class="b">14</text>
<text x="510.67" y="220.30" style="font-size:12.40px;letter-spacing:1.30px" class="b">18</text>
<text x="531.03" y="220.30" style="font-size:12.40px;letter-spacing:1.30px" class="b">22</text>
<text x="551.15" y="220.30" style="font-size:12.40px;letter-spacing:1.30px" class="b">26</text>
<text x="571.36" y="220.30" style="font-size:12.40px;letter-spacing:1.30px" class="b">30</text>
<text x="591.46" y="220.30" style="font-size:12.40px;letter-spacing:1.30px" class="b">34</text>
<text x="611.71" y="220.30" style="font-size:12.40px;letter-spacing:1.30px" class="b">38</text>
<text x="632.00" y="220.30" style="font-size:12.40px;letter-spacing:1.30px" class="b">42</text>
<text x="652.12" y="220.30" style="font-size:12.40px;letter-spacing:1.30px" class="b">46</text>
<text x="385.92" y="432.10" style="font-size:12.30px;letter-spacing:0.97px" class="b">0.00</text>
<text x="385.92" y="404.25" style="font-size:12.30px;letter-spacing:0.99px" class="b">0.25</text>
<text x="385.92" y="376.40" style="font-size:12.30px;letter-spacing:0.97px" class="b">0.50</text>
<text x="385.92" y="348.55" style="font-size:12.30px;letter-spacing:0.99px" class="b">0.75</text>
<text x="385.46" y="320.70" style="font-size:12.30px;letter-spacing:1.13px" class="b">1.00</text>
<text x="424.25" y="449.80" style="font-size:12.40px" class="b">0</text>
<text x="434.33" y="449.80" style="font-size:12.40px" class="b">2</text>
<text x="454.45" y="449.80" style="font-size:12.40px" class="b">6</text>
<text x="470.32" y="449.80" style="font-size:12.40px;letter-spacing:1.30px" class="b">10</text>
<text x="490.42" y="449.80" style="font-size:12.40px;letter-spacing:1.30px" class="b">14</text>
<text x="510.67" y="449.80" style="font-size:12.40px;letter-spacing:1.30px" class="b">18</text>
<text x="531.03" y="449.80" style="font-size:12.40px;letter-spacing:1.30px" class="b">22</text>
<text x="551.15" y="449.80" style="font-size:12.40px;letter-spacing:1.30px" class="b">26</text>
<text x="571.36" y="449.80" style="font-size:12.40px;letter-spacing:1.30px" class="b">30</text>
<text x="591.46" y="449.80" style="font-size:12.40px;letter-spacing:1.30px" class="b">34</text>
<text x="611.71" y="449.80" style="font-size:12.40px;letter-spacing:1.30px" class="b">38</text>
<text x="632.00" y="449.80" style="font-size:12.40px;letter-spacing:1.30px" class="b">42</text>
<text x="652.12" y="449.80" style="font-size:12.40px;letter-spacing:1.30px" class="b">46</text>
<text x="385.92" y="647.20" style="font-size:12.30px;letter-spacing:0.97px" class="b">0.00</text>
<text x="385.92" y="619.40" style="font-size:12.30px;letter-spacing:0.99px" class="b">0.25</text>
<text x="385.92" y="591.60" style="font-size:12.30px;letter-spacing:0.97px" class="b">0.50</text>
<text x="385.92" y="563.80" style="font-size:12.30px;letter-spacing:0.99px" class="b">0.75</text>
<text x="385.46" y="536.00" style="font-size:12.30px;letter-spacing:1.13px" class="b">1.00</text>
<text x="424.25" y="664.90" style="font-size:12.40px" class="b">0</text>
<text x="434.33" y="664.90" style="font-size:12.40px" class="b">2</text>
<text x="454.45" y="664.90" style="font-size:12.40px" class="b">6</text>
<text x="470.32" y="664.90" style="font-size:12.40px;letter-spacing:1.30px" class="b">10</text>
<text x="490.42" y="664.90" style="font-size:12.40px;letter-spacing:1.30px" class="b">14</text>
<text x="510.67" y="664.90" style="font-size:12.40px;letter-spacing:1.30px" class="b">18</text>
<text x="531.03" y="664.90" style="font-size:12.40px;letter-spacing:1.30px" class="b">22</text>
<text x="551.15" y="664.90" style="font-size:12.40px;letter-spacing:1.30px" class="b">26</text>
<text x="571.36" y="664.90" style="font-size:12.40px;letter-spacing:1.30px" class="b">30</text>
<text x="591.46" y="664.90" style="font-size:12.40px;letter-spacing:1.30px" class="b">34</text>
<text x="611.71" y="664.90" style="font-size:12.40px;letter-spacing:1.30px" class="b">38</text>
<text x="632.00" y="664.90" style="font-size:12.40px;letter-spacing:1.30px" class="b">42</text>
<text x="652.12" y="664.90" style="font-size:12.40px;letter-spacing:1.30px" class="b">46</text>
<text x="405.78" y="858.20" style="font-size:12.60px" class="b">0</text>
<text x="405.82" y="839.65" style="font-size:12.60px" class="b">5</text>
<text x="397.18" y="821.10" style="font-size:12.60px;letter-spacing:1.60px" class="b">10</text>
<text x="397.21" y="802.55" style="font-size:12.60px;letter-spacing:1.60px" class="b">15</text>
<text x="397.18" y="784.00" style="font-size:12.60px;letter-spacing:1.60px" class="b">20</text>
<text x="397.21" y="765.45" style="font-size:12.60px;letter-spacing:1.60px" class="b">25</text>
<text x="397.18" y="746.90" style="font-size:12.60px;letter-spacing:1.60px" class="b">30</text>
<text x="424.25" y="876.10" style="font-size:12.40px" class="b">0</text>
<text x="434.33" y="876.10" style="font-size:12.40px" class="b">2</text>
<text x="454.45" y="876.10" style="font-size:12.40px" class="b">6</text>
<text x="470.32" y="876.10" style="font-size:12.40px;letter-spacing:1.30px" class="b">10</text>
<text x="490.42" y="876.10" style="font-size:12.40px;letter-spacing:1.30px" class="b">14</text>
<text x="510.67" y="876.10" style="font-size:12.40px;letter-spacing:1.30px" class="b">18</text>
<text x="531.03" y="876.10" style="font-size:12.40px;letter-spacing:1.30px" class="b">22</text>
<text x="551.15" y="876.10" style="font-size:12.40px;letter-spacing:1.30px" class="b">26</text>
<text x="571.36" y="876.10" style="font-size:12.40px;letter-spacing:1.30px" class="b">30</text>
<text x="591.46" y="876.10" style="font-size:12.40px;letter-spacing:1.30px" class="b">34</text>
<text x="611.71" y="876.10" style="font-size:12.40px;letter-spacing:1.30px" class="b">38</text>
<text x="632.00" y="876.10" style="font-size:12.40px;letter-spacing:1.30px" class="b">42</text>
<text x="652.12" y="876.10" style="font-size:12.40px;letter-spacing:1.30px" class="b">46</text>
<text transform="translate(26.50,199.00) rotate(-90)" x="-1.44" y="0" style="font-size:17.60px;letter-spacing:0.93px">PPN of Trials</text>
<text transform="translate(26.30,431.30) rotate(-90)" x="-1.44" y="0" style="font-size:17.60px;letter-spacing:1.17px">PPN of Trials</text>
<text transform="translate(26.30,646.30) rotate(-90)" x="-1.44" y="0" style="font-size:17.60px;letter-spacing:1.20px">PPN of Trials</text>
<text transform="translate(375.00,199.00) rotate(-90)" x="-1.44" y="0" style="font-size:17.60px;letter-spacing:0.93px">PPN of Trials</text>
<text transform="translate(375.00,431.30) rotate(-90)" x="-1.44" y="0" style="font-size:17.60px;letter-spacing:1.20px">PPN of Trials</text>
<text transform="translate(375.00,646.30) rotate(-90)" x="-1.44" y="0" style="font-size:17.60px;letter-spacing:1.20px">PPN of Trials</text>
<text transform="translate(27.40,835.70) rotate(-90)" x="-0.84" y="0" style="font-size:18.40px;letter-spacing:0.70px">Seconds</text>
<text transform="translate(375.20,836.20) rotate(-90)" x="-0.84" y="0" style="font-size:18.40px;letter-spacing:0.85px">Seconds</text>
<text x="92.62" y="949.90" style="font-size:19.20px;letter-spacing:-0.02px">Degrees from Threshold</text>
<text x="440.23" y="950.10" style="font-size:19.20px;letter-spacing:-0.07px">Degrees from Threshold</text>
<text x="25.23" y="240.80" style="font-size:10.60px;letter-spacing:0.85px">High N:</text>
<text x="28.33" y="259.60" style="font-size:10.60px;letter-spacing:0.87px">Low N:</text>
<text x="70.13" y="240.80" style="font-size:10.60px">16</text>
<text x="84.73" y="240.80" style="font-size:10.60px">16</text>
<text x="104.02" y="240.80" style="font-size:10.60px">11</text>
<text x="124.23" y="240.80" style="font-size:10.60px">16</text>
<text x="144.50" y="240.80" style="font-size:10.60px">11</text>
<text x="164.74" y="240.80" style="font-size:10.60px">11</text>
<text x="184.93" y="240.80" style="font-size:10.60px">10</text>
<text x="208.31" y="240.80" style="font-size:10.60px">8</text>
<text x="228.56" y="240.80" style="font-size:10.60px">5</text>
<text x="248.82" y="240.80" style="font-size:10.60px">3</text>
<text x="268.89" y="240.80" style="font-size:10.60px">1</text>
<text x="289.13" y="240.80" style="font-size:10.60px">1</text>
<text x="70.13" y="259.60" style="font-size:10.60px">16</text>
<text x="84.73" y="259.60" style="font-size:10.60px">16</text>
<text x="103.99" y="259.60" style="font-size:10.60px">16</text>
<text x="124.16" y="259.60" style="font-size:10.60px">14</text>
<text x="144.45" y="259.60" style="font-size:10.60px">10</text>
<text x="170.08" y="259.60" style="font-size:10.60px">3</text>
<text x="184.26" y="259.60" style="font-size:10.60px">5</text>
<text x="208.34" y="259.60" style="font-size:10.60px">3</text>
<text x="228.55" y="259.60" style="font-size:10.60px">0</text>
<text x="248.79" y="259.60" style="font-size:10.60px">0</text>
<text x="269.03" y="259.60" style="font-size:10.60px">0</text>
<text x="289.27" y="259.60" style="font-size:10.60px">0</text>
<text x="372.95" y="240.90" style="font-size:10.40px;letter-spacing:1.00px">High N:</text>
<text x="375.65" y="259.60" style="font-size:10.40px;letter-spacing:1.13px">Low N:</text>
<text x="417.45" y="240.90" style="font-size:10.40px">16</text>
<text x="431.35" y="240.90" style="font-size:10.40px">16</text>
<text x="451.91" y="240.90" style="font-size:10.40px">14</text>
<text x="472.15" y="240.90" style="font-size:10.40px">16</text>
<text x="492.23" y="240.90" style="font-size:10.40px">14</text>
<text x="512.39" y="240.90" style="font-size:10.40px">14</text>
<text x="535.69" y="240.90" style="font-size:10.40px">9</text>
<text x="555.85" y="240.90" style="font-size:10.40px">8</text>
<text x="575.97" y="240.90" style="font-size:10.40px">6</text>
<text x="596.20" y="240.90" style="font-size:10.40px">3</text>
<text x="616.19" y="240.90" style="font-size:10.40px">1</text>
<text x="636.49" y="240.90" style="font-size:10.40px">0</text>
<text x="656.65" y="240.90" style="font-size:10.40px">2</text>
<text x="417.45" y="259.60" style="font-size:10.40px">16</text>
<text x="431.35" y="259.60" style="font-size:10.40px">16</text>
<text x="451.99" y="259.60" style="font-size:10.40px">16</text>
<text x="472.15" y="259.60" style="font-size:10.40px">16</text>
<text x="492.23" y="259.60" style="font-size:10.40px">14</text>
<text x="512.50" y="259.60" style="font-size:10.40px">12</text>
<text x="535.68" y="259.60" style="font-size:10.40px">7</text>
<text x="555.88" y="259.60" style="font-size:10.40px">3</text>
<text x="576.01" y="259.60" style="font-size:10.40px">0</text>
<text x="596.17" y="259.60" style="font-size:10.40px">0</text>
<text x="616.33" y="259.60" style="font-size:10.40px">0</text>
<text x="636.49" y="259.60" style="font-size:10.40px">0</text>
<text x="656.61" y="259.60" style="font-size:10.40px">6</text>
<text x="24.25" y="900.60" style="font-size:10.40px;letter-spacing:1.02px">High N:</text>
<text x="27.25" y="919.60" style="font-size:10.40px;letter-spacing:1.09px">Low N:</text>
<text x="68.75" y="900.60" style="font-size:10.40px">16</text>
<text x="84.55" y="900.60" style="font-size:10.40px">16</text>
<text x="104.13" y="900.60" style="font-size:10.40px">11</text>
<text x="124.35" y="900.60" style="font-size:10.40px">16</text>
<text x="144.58" y="900.60" style="font-size:10.40px">15</text>
<text x="164.83" y="900.60" style="font-size:10.40px">16</text>
<text x="184.99" y="900.60" style="font-size:10.40px">14</text>
<text x="205.31" y="900.60" style="font-size:10.40px">13</text>
<text x="225.52" y="900.60" style="font-size:10.40px">10</text>
<text x="248.86" y="900.60" style="font-size:10.40px">5</text>
<text x="269.09" y="900.60" style="font-size:10.40px">2</text>
<text x="289.33" y="900.60" style="font-size:10.40px">2</text>
<text x="68.75" y="919.60" style="font-size:10.40px">16</text>
<text x="84.55" y="919.60" style="font-size:10.40px">16</text>
<text x="104.11" y="919.60" style="font-size:10.40px">16</text>
<text x="124.34" y="919.60" style="font-size:10.40px">15</text>
<text x="144.59" y="919.60" style="font-size:10.40px">16</text>
<text x="167.90" y="919.60" style="font-size:10.40px">5</text>
<text x="185.09" y="919.60" style="font-size:10.40px">11</text>
<text x="208.38" y="919.60" style="font-size:10.40px">5</text>
<text x="228.61" y="919.60" style="font-size:10.40px">0</text>
<text x="248.85" y="919.60" style="font-size:10.40px">0</text>
<text x="269.09" y="919.60" style="font-size:10.40px">0</text>
<text x="289.33" y="919.60" style="font-size:10.40px">0</text>
<text x="375.38" y="901.30" style="font-size:10.00px;letter-spacing:0.65px">High N:</text>
<text x="377.98" y="918.50" style="font-size:10.00px;letter-spacing:0.70px">Low N:</text>
<text x="417.48" y="901.30" style="font-size:10.00px">16</text>
<text x="432.88" y="901.30" style="font-size:10.00px">16</text>
<text x="452.14" y="901.30" style="font-size:10.00px">14</text>
<text x="472.38" y="901.30" style="font-size:10.00px">16</text>
<text x="492.54" y="901.30" style="font-size:10.00px">16</text>
<text x="512.70" y="901.30" style="font-size:10.00px">16</text>
<text x="532.86" y="901.30" style="font-size:10.00px">16</text>
<text x="553.02" y="901.30" style="font-size:10.00px">16</text>
<text x="573.18" y="901.30" style="font-size:10.00px">13</text>
<text x="593.31" y="901.30" style="font-size:10.00px">10</text>
<text x="616.45" y="901.30" style="font-size:10.00px">5</text>
<text x="636.60" y="901.30" style="font-size:10.00px">2</text>
<text x="653.82" y="901.30" style="font-size:10.00px">16</text>
<text x="417.48" y="918.50" style="font-size:10.00px">16</text>
<text x="432.88" y="918.50" style="font-size:10.00px">16</text>
<text x="452.22" y="918.50" style="font-size:10.00px">16</text>
<text x="472.38" y="918.50" style="font-size:10.00px">16</text>
<text x="492.54" y="918.50" style="font-size:10.00px">16</text>
<text x="512.70" y="918.50" style="font-size:10.00px">16</text>
<text x="532.85" y="918.50" style="font-size:10.00px">15</text>
<text x="552.99" y="918.50" style="font-size:10.00px">10</text>
<text x="576.12" y="918.50" style="font-size:10.00px">0</text>
<text x="596.28" y="918.50" style="font-size:10.00px">0</text>
<text x="616.44" y="918.50" style="font-size:10.00px">0</text>
<text x="636.60" y="918.50" style="font-size:10.00px">0</text>
<text x="653.82" y="918.50" style="font-size:10.00px">16</text>
<text x="326.85" y="1006.40" style="font-size:15.20px;letter-spacing:0.11px">High Friction</text>
<text x="326.85" y="1031.60" style="font-size:15.20px;letter-spacing:0.09px">Low Friction</text>
</g>
</svg>
</body></html>
